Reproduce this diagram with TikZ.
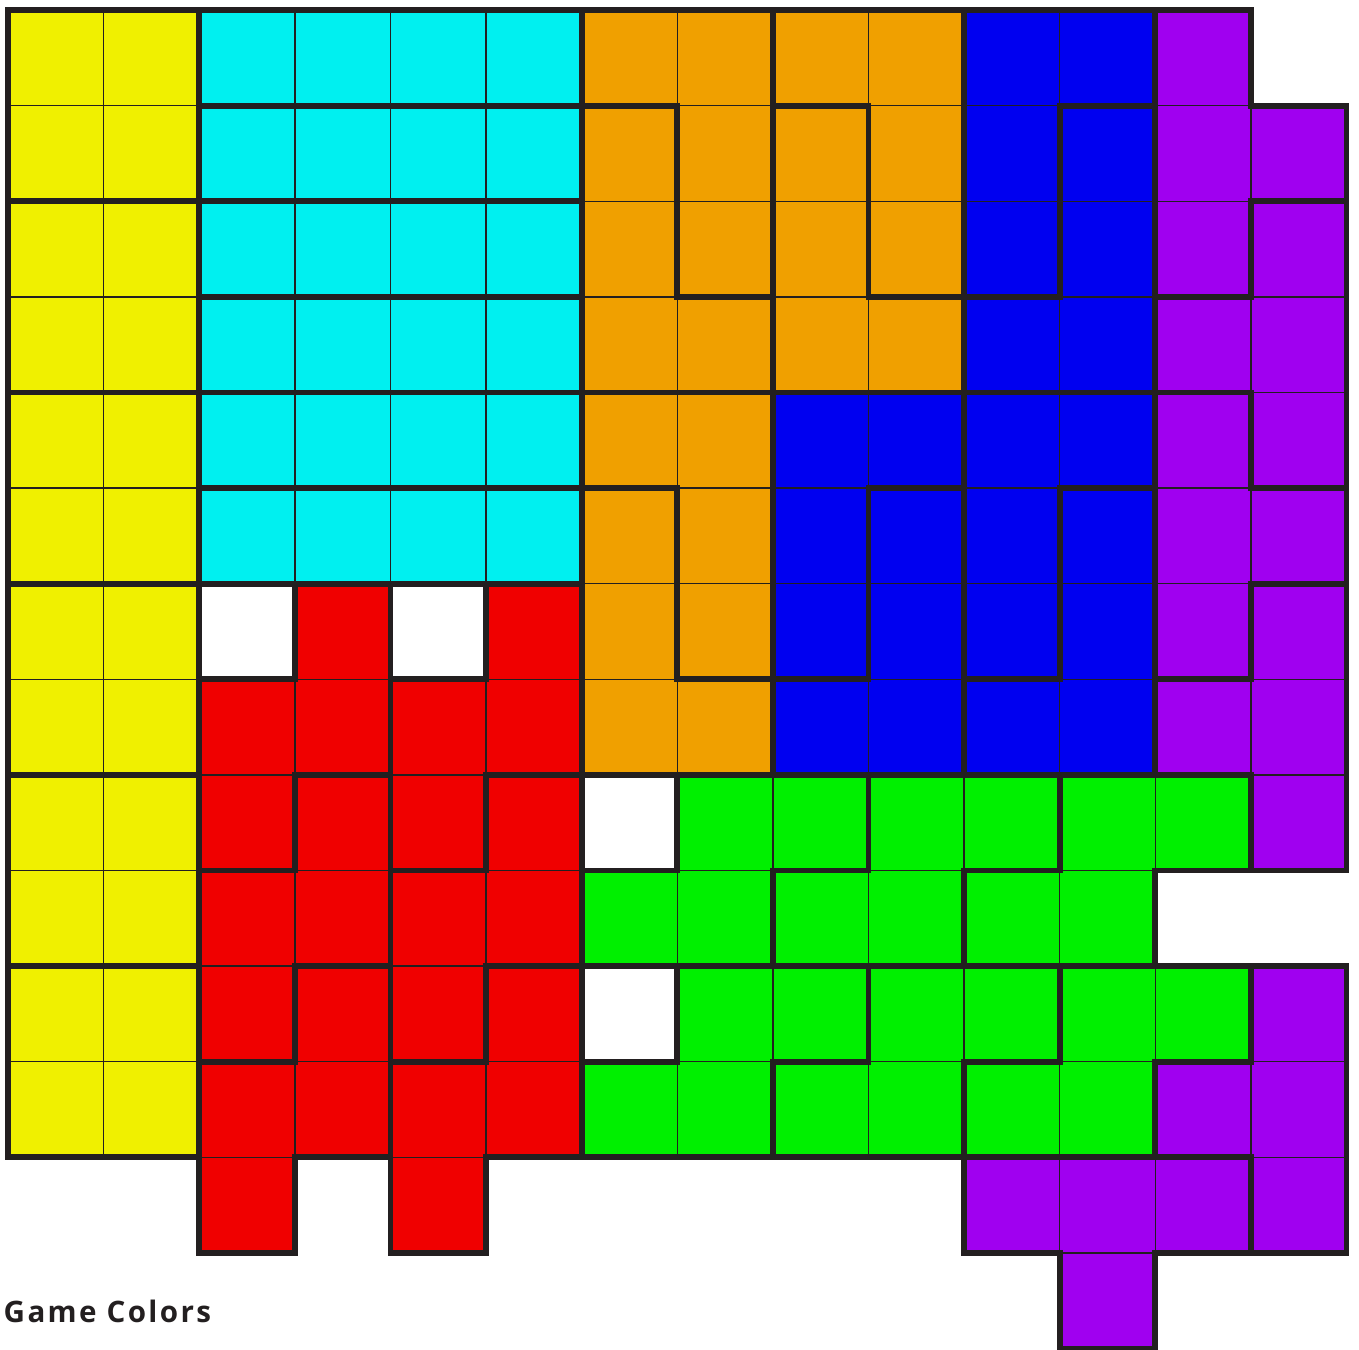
\documentclass[tikz,border=0pt]{standalone}
\usepackage{fontspec}
\setmainfont{Open Sans}
\newfontfamily\captionfont[LetterSpace=8]{Open Sans}

\definecolor{edge}{RGB}{35,31,32}
\definecolor{tyellow}{RGB}{240,240,0}
\definecolor{tcyan}{RGB}{0,240,240}
\definecolor{torange}{RGB}{240,160,0}
\definecolor{tblue}{RGB}{0,0,240}
\definecolor{tpurple}{RGB}{160,0,240}
\definecolor{tred}{RGB}{240,0,0}
\definecolor{tgreen}{RGB}{0,240,0}

\begin{document}
\begin{tikzpicture}[
  x=1cm, y=-1cm,
  cell/.style  = {draw=edge, line width=0.4pt},
  hole/.style  = {fill=white, draw=gray, line width=0.4pt},
  piece/.style = {draw=edge, line width=1.75pt, line join=miter},
]
  \useasboundingbox (-0.084,-0.105) rectangle (14.131,14.006);

%--- Cells ---
  % yellow
  \foreach \c in {0,1} \foreach \r in {0,...,11}
    \filldraw[cell, fill=tyellow] (\c,\r) rectangle ++(1,1);
  % cyan
  \foreach \c in {2,...,5} \foreach \r in {0,...,5}
    \filldraw[cell, fill=tcyan] (\c,\r) rectangle ++(1,1);
  % red
  \foreach \c in {2,...,5} \foreach \r in {7,...,11}
    \filldraw[cell, fill=tred] (\c,\r) rectangle ++(1,1);
  \foreach \c/\r in {3/6, 5/6, 2/12, 4/12}
    \filldraw[cell, fill=tred] (\c,\r) rectangle ++(1,1);
  % orange
  \foreach \c in {6,...,9} \foreach \r in {0,...,3}
    \filldraw[cell, fill=torange] (\c,\r) rectangle ++(1,1);
  \foreach \c in {6,7} \foreach \r in {4,...,7}
    \filldraw[cell, fill=torange] (\c,\r) rectangle ++(1,1);
  % blue
  \foreach \c in {10,11} \foreach \r in {0,...,3}
    \filldraw[cell, fill=tblue] (\c,\r) rectangle ++(1,1);
  \foreach \c in {8,...,11} \foreach \r in {4,...,7}
    \filldraw[cell, fill=tblue] (\c,\r) rectangle ++(1,1);
  % purple
  \foreach \r in {0,...,7}
    \filldraw[cell, fill=tpurple] (12,\r) rectangle ++(1,1);
  \foreach \r in {1,...,8}
    \filldraw[cell, fill=tpurple] (13,\r) rectangle ++(1,1);
  \foreach \c/\r in {13/10, 12/11, 13/11, 10/12, 11/12, 12/12, 13/12, 11/13}
    \filldraw[cell, fill=tpurple] (\c,\r) rectangle ++(1,1);
  % green
  \foreach \r in {8,10} \foreach \c in {7,...,12}
    \filldraw[cell, fill=tgreen] (\c,\r) rectangle ++(1,1);
  \foreach \r in {9,11} \foreach \c in {6,...,11}
    \filldraw[cell, fill=tgreen] (\c,\r) rectangle ++(1,1);
  % empty squares
  \foreach \c/\r in {2/6, 4/6, 6/8, 6/10}
    \filldraw[hole] (\c,\r) rectangle ++(1,1);

%--- Piece outlines ---
  % O pieces
  \foreach \r in {0,2,...,10}
    \draw[piece] (0,\r) rectangle ++(2,2);
  % I pieces
  \foreach \r in {0,...,5}
    \draw[piece] (2,\r) rectangle ++(4,1);
  % S pieces (red)
  \foreach \x in {2,4} \foreach \y in {6,8,10}
    \draw[piece] (\x+1,\y) -- ++(1,0) -- ++(0,2) -- ++(-1,0) -- ++(0,1)
                 -- ++(-1,0) -- ++(0,-2) -- ++(1,0) -- cycle;
  % L pieces (orange)
  \foreach \x/\y in {6/0, 8/0, 6/4} {
    \draw[piece] (\x,\y) -- ++(2,0) -- ++(0,3) -- ++(-1,0) -- ++(0,-2)
                 -- ++(-1,0) -- cycle;
    \draw[piece] (\x,\y+1) -- ++(1,0) -- ++(0,2) -- ++(1,0) -- ++(0,1)
                 -- ++(-2,0) -- cycle;
  }
  % J pieces (blue)
  \foreach \x/\y in {10/0, 8/4, 10/4} {
    \draw[piece] (\x,\y) -- ++(2,0) -- ++(0,1) -- ++(-1,0) -- ++(0,2)
                 -- ++(-1,0) -- cycle;
    \draw[piece] (\x+1,\y+1) -- ++(1,0) -- ++(0,3) -- ++(-2,0) -- ++(0,-1)
                 -- ++(1,0) -- cycle;
  }
  % T pieces (purple)
  \foreach \s in {0,4}
    \draw[piece] (12,\s) -- ++(1,0) -- ++(0,1) -- ++(1,0) -- ++(0,1)
                 -- ++(-1,0) -- ++(0,1) -- ++(-1,0) -- cycle;
  \foreach \s in {0,4,8}
    \draw[piece] (13,\s+2) -- ++(1,0) -- ++(0,3) -- ++(-1,0) -- ++(0,-1)
                 -- ++(-1,0) -- ++(0,-1) -- ++(1,0) -- cycle;
  \draw[piece] (10,12) -- ++(3,0) -- ++(0,1) -- ++(-1,0) -- ++(0,1)
               -- ++(-1,0) -- ++(0,-1) -- ++(-1,0) -- cycle;
  % S pieces (green)
  \foreach \x in {6,8,10} \foreach \y in {8,10}
    \draw[piece] (\x+1,\y) -- ++(2,0) -- ++(0,1) -- ++(-1,0) -- ++(0,1)
                 -- ++(-2,0) -- ++(0,-1) -- ++(1,0) -- cycle;

  \node[anchor=base west, inner sep=0pt, text=edge,
        font=\captionfont\bfseries\fontsize{8.8}{10}\selectfont]
    (caption) at (-0.052,13.73) {Game Colors};
\end{tikzpicture}
\end{document}
